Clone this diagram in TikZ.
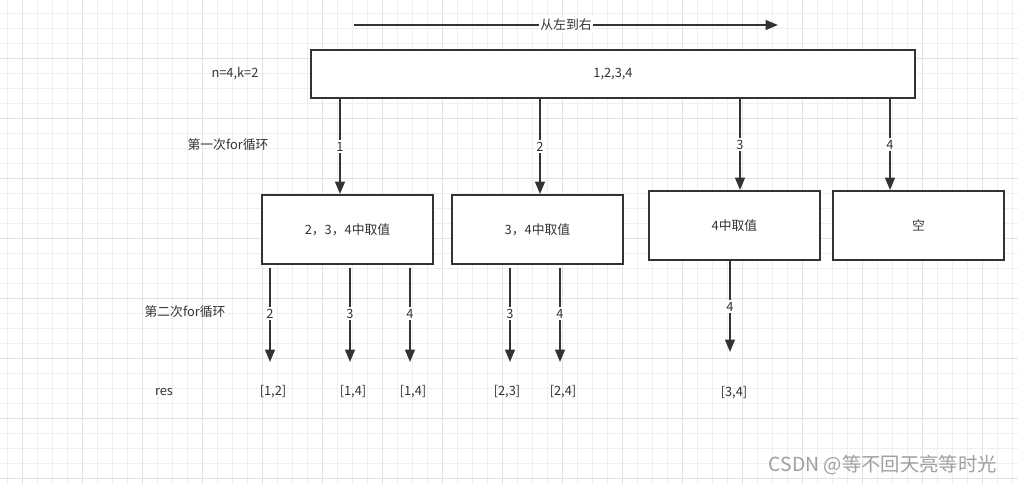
\documentclass[tikz,border=0pt]{standalone}
\usepackage{fontspec}
\setmainfont{Noto Sans CJK SC}
\usetikzlibrary{arrows.meta}
\definecolor{linec}{HTML}{333333}
\definecolor{gridmin}{HTML}{EFEFEF}
\definecolor{gridmaj}{HTML}{E2E2E2}
\definecolor{markc}{HTML}{A0A0A0}

\begin{document}
\begin{tikzpicture}[x=0.02cm,y=-0.02cm,
    font=\fontsize{7.3}{8.5}\selectfont,text=linec]
  \tikzset{BoxStyle/.style = {
      draw = linec,
      line width = 1.1pt,
      fill = white,
      inner sep = 0pt,
      minimum width = 3.42cm,
      minimum height = 1.38cm},
    ArrowStyle/.style = {
      draw = linec,
      line width = 1.1pt,
      -{Triangle[length=7pt,width=5.5pt]}},
    LabelStyle/.style = {
      fill = white,
      inner sep = 1pt}}
  %% paper and grid
  \useasboundingbox (0,0) rectangle (1018,484);
  \fill[white] (0,0) rectangle (1018,484);
  \foreach \gx in {7,22,...,1018}{\draw[gridmin,line width=.4pt] (\gx,0) -- (\gx,484);}
  \foreach \gy in {13,28,...,484}{\draw[gridmin,line width=.4pt] (0,\gy) -- (1018,\gy);}
  \foreach \gx in {22,82,...,1018}{\draw[gridmaj,line width=.4pt] (\gx,0) -- (\gx,484);}
  \foreach \gy in {58,118,...,484}{\draw[gridmaj,line width=.4pt] (0,\gy) -- (1018,\gy);}
  %% direction
  \coordinate (dirL) at (354,25);
  \coordinate (dirR) at (778,25);
  \draw[ArrowStyle] (dirL) -- node[LabelStyle] (dir) {从左到右} (dirR);
  %% root
  \node[BoxStyle,minimum width=12.08cm,minimum height=.96cm] (root) at (613,74) {1,2,3,4};
  \node (nk) at (235,74) {n=4,k=2};
  \node (loop1) at (228,145) {第一次for循环};
  \node (loop2) at (185,312) {第二次for循环};
  \node (res) at (164,392) {res};
  %% first loop
  \node[BoxStyle] (b234) at (347.5,229.5) {2，3，4中取值};
  \node[BoxStyle] (b34) at (537.5,229.5) {3，4中取值};
  \node[BoxStyle] (b4) at (734.5,225.5) {4中取值};
  \node[BoxStyle] (bnil) at (918.5,225.5) {空};
  \draw[ArrowStyle] (root.south -| 340,0) -- node[LabelStyle] {1} (b234.north -| 340,0);
  \draw[ArrowStyle] (root.south -| 540,0) -- node[LabelStyle] {2} (b34.north -| 540,0);
  \draw[ArrowStyle] (root.south -| 740,0) -- node[LabelStyle] {3} (b4.north -| 740,0);
  \draw[ArrowStyle] (root.south -| 890,0) -- node[LabelStyle] {4} (bnil.north -| 890,0);
  %% second loop
  \coordinate (e12) at (270,362);
  \coordinate (e13) at (350,362);
  \coordinate (e14) at (410,362);
  \coordinate (e23) at (510,362);
  \coordinate (e24) at (560,362);
  \coordinate (e34) at (730,352);
  \draw[ArrowStyle,shorten <=.06cm] (b234.south -| e12) -- node[LabelStyle] {2} (e12);
  \draw[ArrowStyle,shorten <=.06cm] (b234.south -| e13) -- node[LabelStyle] {3} (e13);
  \draw[ArrowStyle,shorten <=.06cm] (b234.south -| e14) -- node[LabelStyle] {4} (e14);
  \draw[ArrowStyle,shorten <=.06cm] (b34.south -| e23) -- node[LabelStyle] {3} (e23);
  \draw[ArrowStyle,shorten <=.06cm] (b34.south -| e24) -- node[LabelStyle] {4} (e24);
  \draw[ArrowStyle] (b4.south -| e34) -- node[LabelStyle] {4} (e34);
  %% results
  \node (r12) at (273,392) {[1,2]};
  \node (r13) at (353,392) {[1,4]};
  \node (r14) at (413,392) {[1,4]};
  \node (r23) at (507,392) {[2,3]};
  \node (r24) at (563,392) {[2,4]};
  \node (r34) at (734,393) {[3,4]};
  %% watermark
  \node[text=markc,font=\fontsize{11}{13}\selectfont,anchor=east] (mark) at (1003,465) {CSDN @等不回天亮等时光};
\end{tikzpicture}
\end{document}
